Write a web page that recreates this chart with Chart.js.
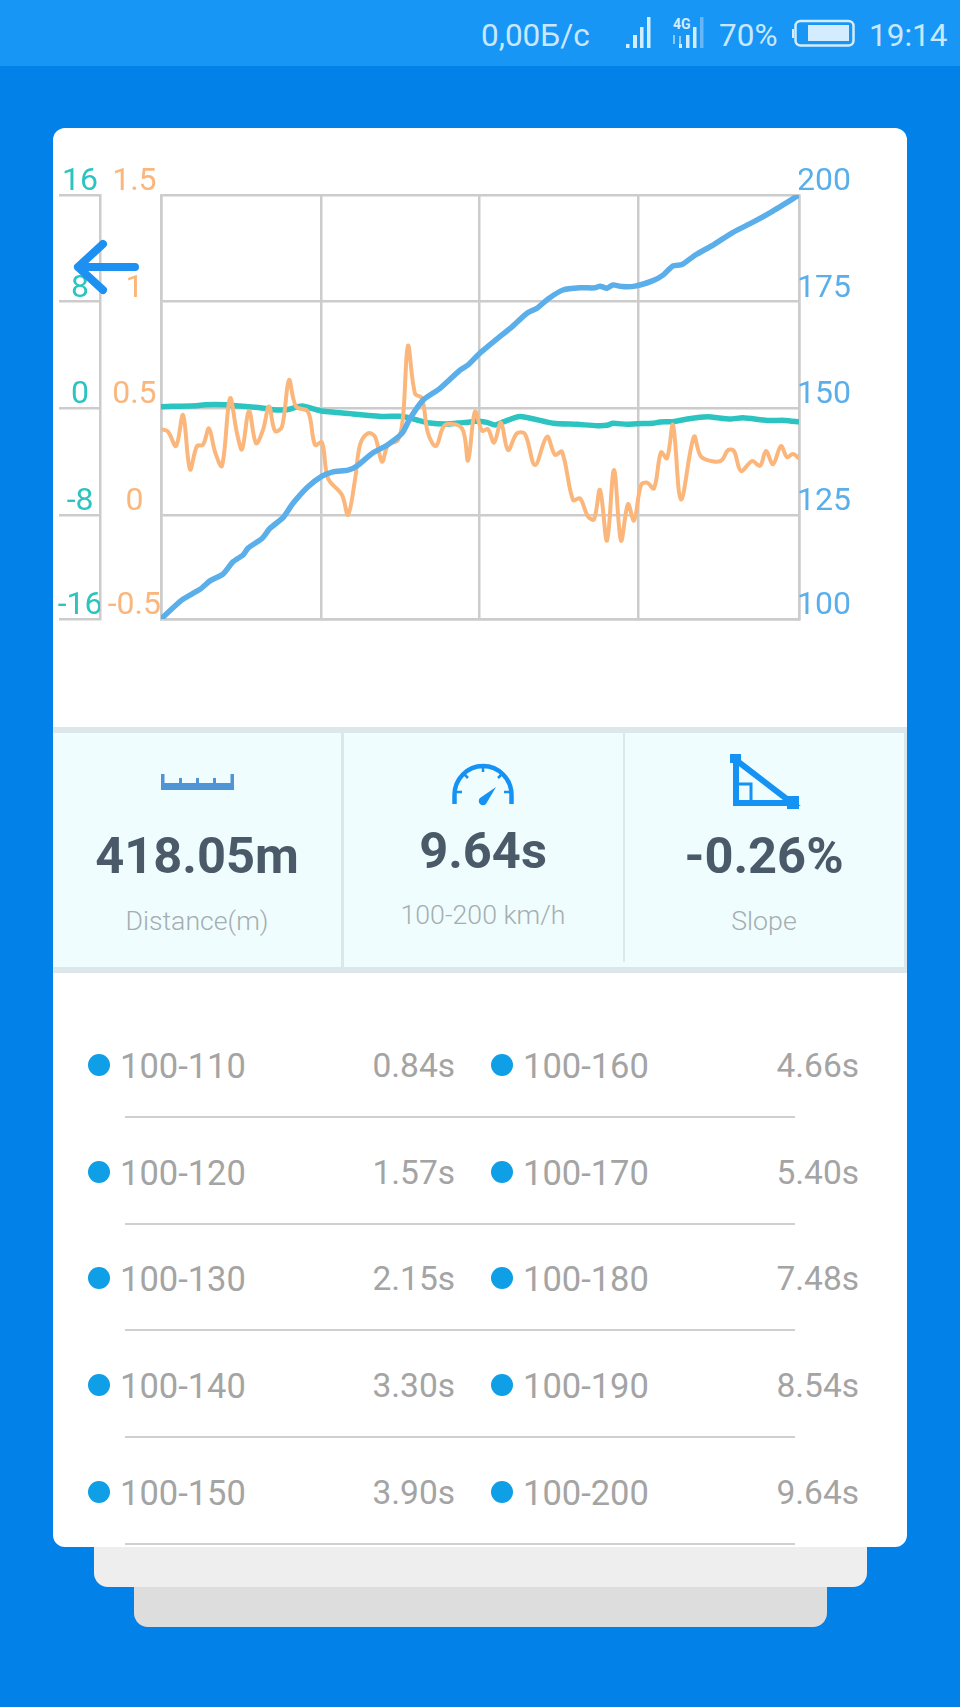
<!DOCTYPE html>
<html><head><meta charset="utf-8">
<script src="https://cdn.jsdelivr.net/npm/chart.js@4"></script>
<style>
html,body{margin:0;padding:0;background:#0281e8;width:960px;height:1707px;overflow:hidden;font-family:Roboto,sans-serif}
.abs{position:absolute}
.t{position:absolute;white-space:nowrap;line-height:1}
#status{left:0;top:0;width:960px;height:66px;background:#1896f6}
.card{position:absolute;border-radius:0 0 14px 14px}
#main{left:53px;top:128px;width:854px;height:1419px;background:#fff;border-radius:12px;overflow:hidden}
#panel{left:53px;top:727px;width:854px;height:246px;background:#effdfe;box-sizing:border-box;border-top:6px solid #dbe7ea;border-bottom:6px solid #dbe7ea;border-right:3px solid #dbe7ea}
canvas{position:absolute;left:53px;top:128px}
.val{font-weight:700;font-size:50.6px;color:#4a5a69;transform:translateX(-50%)}
.lab{font-weight:300;font-size:26.7px;color:#a6adb0;transform:translateX(-50%)}
.rowt{font-size:34.5px;color:#a4a4a4}
</style></head><body>
<div class="abs" id="status"></div>
<div class="t" style="left:481px;top:20px;font-size:31.5px;color:#c9e8fe">0,00Б/с</div>
<div class="t" style="left:719px;top:20px;font-size:31.5px;color:#c9e8fe">70%</div>
<div class="t" style="left:869px;top:20px;font-size:31.5px;color:#c9e8fe">19:14</div>
<svg class="abs" style="left:0;top:0" width="960" height="66">
 <g fill="#d4edfe">
  <rect x="626" y="44" width="3.5" height="4"/><rect x="633" y="35" width="4" height="13"/><rect x="640" y="27" width="3.5" height="21"/><rect x="647" y="17" width="3.5" height="31"/>
  <rect x="679" y="44" width="3" height="4"/><rect x="686" y="35" width="3.5" height="13"/><rect x="693" y="27" width="3.5" height="21"/>
  <rect x="700" y="17" width="3.5" height="31" fill="#66b6f8"/>
  <text x="673" y="28.5" font-family="Roboto" font-weight="700" font-size="14">4G</text>
  <path d="M674 35v9M680 36v8" stroke="#8ccafa" stroke-width="2"/>
 </g>
 <rect x="795.5" y="21" width="58" height="24.5" rx="5" fill="none" stroke="#d4edfe" stroke-width="2.5"/>
 <rect x="792" y="29" width="2" height="9" fill="#d4edfe"/>
 <rect x="808" y="25" width="41" height="16" fill="#d4edfe"/>
</svg>
<div class="card" style="left:134px;top:1560px;width:693px;height:67px;background:#dddddd"></div>
<div class="card" style="left:94px;top:1520px;width:773px;height:67px;background:#eeeeee"></div>
<div class="abs" id="main"></div>
<canvas id="c" width="854" height="540" style="width:854px;height:540px"></canvas>
<svg class="abs" style="left:0;top:0" width="160" height="320"><path d="M135 267H78M103 244L78 267L103 290" fill="none" stroke="#1d90f2" stroke-width="8" stroke-linecap="round" stroke-linejoin="round"/></svg>
<div class="abs" id="panel"></div>
<div class="abs" style="left:341px;top:733px;width:3px;height:234px;background:#dbe7ea"></div>
<div class="abs" style="left:622.5px;top:733px;width:2.5px;height:229px;background:#dbe7ea"></div>
<svg class="abs" style="left:0;top:720px" width="960" height="100">
 <g fill="#4f94d4"><rect x="161" y="63" width="73" height="7"/><rect x="161" y="54" width="3.5" height="12"/><rect x="230.5" y="54" width="3.5" height="12"/><rect x="179" y="58" width="3" height="6"/><rect x="196" y="58" width="3" height="6"/><rect x="213" y="58" width="3" height="6"/></g>
 <g fill="none" stroke="#1593f4"><path d="M454.5 84 V75 A28.5 29 0 0 1 511.5 75 V84" stroke-width="4.5"/>
  <path d="M483 46v6M464 54l4 4M502 54l-4 4M456 72h6M510 72h-6" stroke-width="2.5"/></g>
 <path d="M496 67 L486 84 A4.2 4.2 0 1 1 480 78 Z" fill="#1593f4"/>
 <g fill="#1593f4"><rect x="730" y="34" width="11" height="9"/><rect x="787" y="76" width="12" height="13"/></g>
 <g fill="none" stroke="#1593f4"><path d="M736 40V83H792L736 40Z" stroke-width="6"/><path d="M736 64H751V83" stroke-width="3"/></g>
</svg>
<div class="t val" style="left:197px;top:831px" >418.05m</div>
<div class="t val" style="left:483px;top:826px">9.64s</div>
<div class="t val" style="left:764px;top:831px">-0.26%</div>
<div class="t lab" style="left:197px;top:908px">Distance(m)</div>
<div class="t lab" style="left:483px;top:902px">100-200 km/h</div>
<div class="t lab" style="left:764px;top:908px">Slope</div>
<div id="rows"></div>
<script>
const orangeX=[0,7,15,22,29,36,42,48,54,61,69,76,81,88,95,102,108,114,121,128,135,147,154,161,167,181,187,194,199,207,214,221,227,237,242,247,254,261,267,275,284,301,307,314,321,327,333,340,347,356,364,374,386,394,401,412,419,427,433,439,446,453,460,467,473,480,486,493,500,506,512,520,533,540,554,561,567,573,580,591,599,605,612,620,626,632,638];
const orangeY=[.395,.384,.316,.462,.206,.316,.321,.399,.289,.222,.541,.376,.300,.481,.329,.392,.502,.387,.407,.627,.502,.478,.321,.333,.164,.085,-.009,.156,.321,.376,.36,.242,.321,.344,.454,.789,.564,.541,.376,.316,.415,.399,.247,.478,.388,.395,.332,.426,.297,.376,.373,.226,.36,.274,.289,.061,.069,-.017,-.03,.109,-.13,.203,-.13,.042,-.036,.132,.143,.116,.286,.258,.415,.064,.36,.266,.242,.25,.297,.292,.198,.245,.222,.292,.23,.316,.263,.278,.258];
const blueX=[0,21,39,49,62,72,82,87,101,109,122,132,147,161,172,187,196,212,226,241,249,262,279,299,307,318,341,351,366,376,387,402,419,434,439,446,452,461,474,492,502,512,521,534,552,572,592,611,638];
const blueY=[100,104.5,107,109,110.6,113.5,115.1,116.7,119,121.4,123.9,127.3,131.2,133.7,134.7,135.1,136.1,139.2,141,143.8,147.3,151.6,154.4,158.7,159.9,162.5,167,168.9,172.1,173.3,175.5,177.6,178.1,178.1,178.5,178,178.8,178.4,178.5,179.8,181.1,183.3,183.6,185.8,188.2,191.2,193.6,196.1,200];
const tealX=[0,12,36,44,64,79,99,112,126,141,159,189,222,242,256,269,286,301,312,314,326,334,342,359,392,416,436,446,452,466,476,492,499,512,526,546,569,582,606,624,638];
const tealY=[.02,.05,.10,.17,.17,.07,-.05,-.20,-.20,.07,-.28,-.50,-.71,-.71,-.98,-1.21,-1.28,-1.18,-1.11,-1.06,-1.16,-1.36,-1.13,-.71,-1.23,-1.31,-1.41,-1.38,-1.23,-1.31,-1.26,-1.23,-1.13,-1.11,-.91,-.73,-.91,-.81,-1.01,-1.01,-1.13];
const tealTicks=['16','8','0','-8','-16'];
const orangeTicks=['1.5','1','0.5','0','-0.5'];
const blueTicks=['200','175','150','125','100'];
const tealTickAt=[16,7.95,-.1,-8.17,-16];
const orangeTickAt=[1.5,.997,.494,-.011,-.5];
const blueTickAt=[200,174.83,149.69,124.46,100];
const xGridAt=[0,160,318,477,638];
const rowLabelsLeft=['100-110','100-120','100-130','100-140','100-150'];
const rowTimesLeft=['0.84s','1.57s','2.15s','3.30s','3.90s'];
const rowLabelsRight=['100-160','100-170','100-180','100-190','100-200'];
const rowTimesRight=['4.66s','5.40s','7.48s','8.54s','9.64s'];

const zip=(xs,ys)=>xs.map((x,i)=>({x,y:ys[i]}));
const GRID='#cccccc', TEAL='#2cc4c0', ORANGE='#fbb67c', BLUE='#5aaeea';
const fix=(w)=>s=>{s.width=w;s.paddingTop=0;s.paddingBottom=0;};
const useTicks=list=>s=>{s.ticks=list.map(v=>({value:v}));};
const labelBy=list=>(v,i)=>list[i];
new Chart(document.getElementById('c'),{
 type:'line',
 data:{datasets:[
  {data:zip(blueX,blueY),yAxisID:'yBlue',borderColor:BLUE,borderWidth:5.5,pointRadius:0,tension:0.2},
  {data:zip(orangeX,orangeY),yAxisID:'yOrange',borderColor:ORANGE,borderWidth:4,pointRadius:0,tension:0.35},
  {data:zip(tealX,tealY),yAxisID:'yTeal',borderColor:TEAL,borderWidth:5.5,pointRadius:0,tension:0.2}
 ]},
 options:{
  responsive:false,animation:false,
  layout:{padding:{top:67,bottom:49,left:0,right:0}},
  plugins:{legend:{display:false},tooltip:{enabled:false}},
  scales:{
   x:{type:'linear',min:0,max:638,position:'bottom',
      afterBuildTicks:useTicks(xGridAt),
      ticks:{display:false},
      grid:{color:GRID,lineWidth:2.5,drawTicks:false},border:{color:GRID,width:2.5},
      afterFit:s=>{s.height=0;}},
   yOrange:{type:'linear',position:'left',weight:0,min:-0.5,max:1.5,
      afterBuildTicks:useTicks(orangeTickAt),
      ticks:{color:ORANGE,font:{family:'Roboto',size:32},padding:0,labelOffset:-13,crossAlign:'center',autoSkip:false,callback:labelBy(orangeTicks)},
      grid:{color:GRID,lineWidth:2.5,drawTicks:false},border:{color:GRID,width:2.5},
      afterFit:fix(61)},
   yTeal:{type:'linear',position:'left',weight:1,min:-16,max:16,
      afterBuildTicks:useTicks(tealTickAt),
      ticks:{color:TEAL,font:{family:'Roboto',size:32},padding:-43.5,labelOffset:-13,crossAlign:'center',autoSkip:false,callback:labelBy(tealTicks)},
      grid:{color:GRID,lineWidth:2.5,drawOnChartArea:false,tickLength:41},border:{color:GRID,width:2.5},
      afterFit:fix(47)},
   yBlue:{type:'linear',position:'right',min:100,max:200,
      afterBuildTicks:useTicks(blueTickAt),
      ticks:{color:BLUE,font:{family:'Roboto',size:32},padding:-2,labelOffset:-13,autoSkip:false,callback:labelBy(blueTicks)},
      grid:{color:GRID,lineWidth:2.5,drawOnChartArea:false,drawTicks:false},border:{color:GRID,width:2.5},
      afterFit:fix(108)}
  }
 }
});
const rowYs=[1065,1172,1278,1385,1492];
const host=document.getElementById('rows');
let html='';
rowYs.forEach((y,i)=>{
 const top=y-16.5;
 [[99,120,455,rowLabelsLeft[i],rowTimesLeft[i]],[502,523,859,rowLabelsRight[i],rowTimesRight[i]]].forEach(([dx,lx,rx,l,t])=>{
  html+=`<div class="abs" style="left:${dx-11}px;top:${y-11}px;width:22px;height:22px;border-radius:50%;background:#0f9fe6"></div>`;
  html+=`<div class="t rowt" style="left:${lx}px;top:${top}px">${l}</div>`;
  html+=`<div class="t rowt" style="right:${960-rx}px;top:${top}px;font-size:33.5px">${t}</div>`;
 });
 html+=`<div class="abs" style="left:125px;top:${y+51}px;width:670px;height:2px;background:#d0d0d0"></div>`;
});
host.innerHTML=html;
</script>
</body></html>
